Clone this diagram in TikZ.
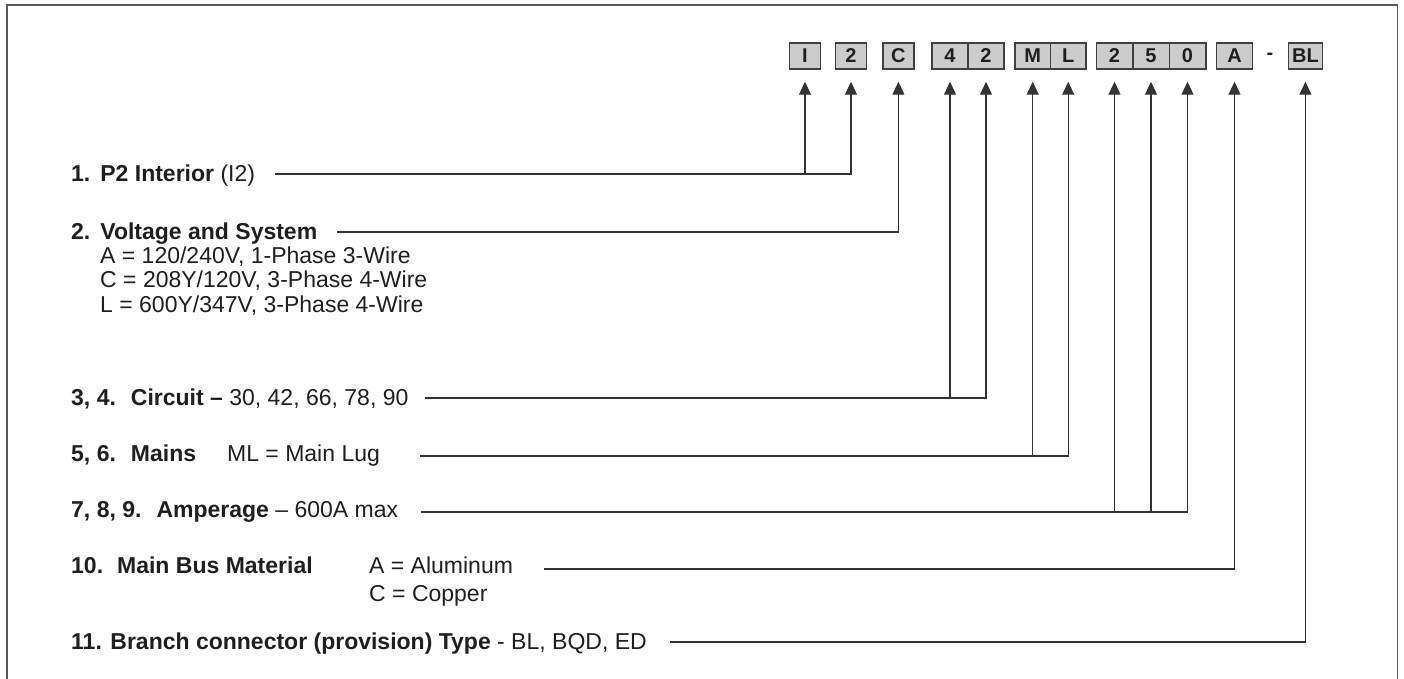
\documentclass[tikz,border=0pt]{standalone}
\usepackage{fontspec}
\setmainfont{Liberation Sans}
\usetikzlibrary{arrows.meta}
\begin{document}
\begin{tikzpicture}[x=1pt,y=-1pt,
  lbl/.style={anchor=base west, inner sep=0pt, font=\fontsize{23}{25}\selectfont, text=black!88},
  cbox/.style={draw=black!75, line width=1.5pt, fill=black!20, minimum height=26pt, inner sep=0pt,
    font=\fontsize{20}{20}\selectfont\bfseries, text=black!88},
  conn/.style={draw=black!80, line width=1.2pt},
  arr/.style={conn, -{Triangle[width=12pt,length=13pt]}},
  frame/.style={draw=black!65, line width=1.6pt}]
\useasboundingbox (0,0) rectangle (1404,679);
\draw[frame] (7,700) -- (7,5) -- (1397.5,5) -- (1397.5,700);

% code boxes
\node[cbox, minimum width=31pt] (bI)  at (805,56) {I};
\node[cbox, minimum width=31pt] (b2)  at (851,56) {2};
\node[cbox, minimum width=31pt] (bC)  at (898.4,56) {C};
\node[cbox, minimum width=36pt] (b4)  at (950,56) {4};
\node[cbox, minimum width=36pt] (b42) at (986,56) {2};
\node[cbox, minimum width=35.5pt] (bM) at (1032.7,56) {M};
\node[cbox, minimum width=35.5pt] (bL) at (1068.2,56) {L};
\node[cbox, minimum width=36.5pt] (b25) at (1114.5,56) {2};
\node[cbox, minimum width=36.5pt] (b5)  at (1151,56) {5};
\node[cbox, minimum width=36.5pt] (b0)  at (1187.5,56) {0};
\node[cbox, minimum width=36pt] (bA)  at (1234.5,56) {A};
\node[font=\fontsize{20}{20}\selectfont\bfseries, text=black!88, inner sep=0pt] (dash) at (1270,56) {-};
\node[cbox, minimum width=34pt] (bBL) at (1305.4,56) {BL};

% labels
\node[lbl] (t1) at (71,182) {\textbf{1.\hspace{10pt}P2 Interior} (I2)};
\node[lbl] (t2) at (71,239) {\textbf{2.\hspace{10pt}Voltage and System}};
\node[lbl] (t2a) at (100,263) {A = 120/240V, 1-Phase 3-Wire};
\node[lbl] (t2c) at (100,287.5) {C = 208Y/120V, 3-Phase 4-Wire};
\node[lbl] (t2l) at (100,312) {L = 600Y/347V, 3-Phase 4-Wire};
\node[lbl] (t3) at (71,405) {\textbf{3, 4.\hspace{15pt}Circuit –} 30, 42, 66, 78, 90};
\node[lbl] (t5) at (71,461) {\textbf{5, 6.\hspace{15pt}Mains}\hspace{31pt}ML = Main Lug};
\node[lbl] (t7) at (71,517) {\textbf{7, 8, 9.\hspace{15pt}Amperage} – 600A max};
\node[lbl] (t10) at (71,573) {\textbf{10.\hspace{14pt}Main Bus Material}};
\node[lbl] (t10a) at (369,573) {A = Aluminum};
\node[lbl] (t10c) at (369,601) {C = Copper};
\node[lbl] (t11) at (71,649) {\textbf{11. Branch connector (provision) Type} - BL, BQD, ED};

% connector start points
\coordinate (s1) at (275,174);
\coordinate (s2) at (337,232);
\coordinate (s3) at (425,398);
\coordinate (s5) at (420,456);
\coordinate (s7) at (421,512);
\coordinate (s10) at (544,569);
\coordinate (s11) at (670,642);

% connectors
\draw[arr] (s1) -| ([yshift=-12pt]b2.south);
\draw[arr] (bI.south |- s1) -- ([yshift=-12pt]bI.south);
\draw[arr] (s2) -| ([yshift=-12pt]bC.south);
\draw[arr] (s3) -| ([yshift=-12pt]b42.south);
\draw[arr] (b4.south |- s3) -- ([yshift=-12pt]b4.south);
\draw[arr] (s5) -| ([yshift=-12pt]bL.south);
\draw[arr] (bM.south |- s5) -- ([yshift=-12pt]bM.south);
\draw[arr] (s7) -| ([yshift=-12pt]b0.south);
\draw[arr] (b25.south |- s7) -- ([yshift=-12pt]b25.south);
\draw[arr] (b5.south |- s7) -- ([yshift=-12pt]b5.south);
\draw[arr] (s10) -| ([yshift=-12pt]bA.south);
\draw[arr] (s11) -| ([yshift=-12pt]bBL.south);
\end{tikzpicture}
\end{document}
